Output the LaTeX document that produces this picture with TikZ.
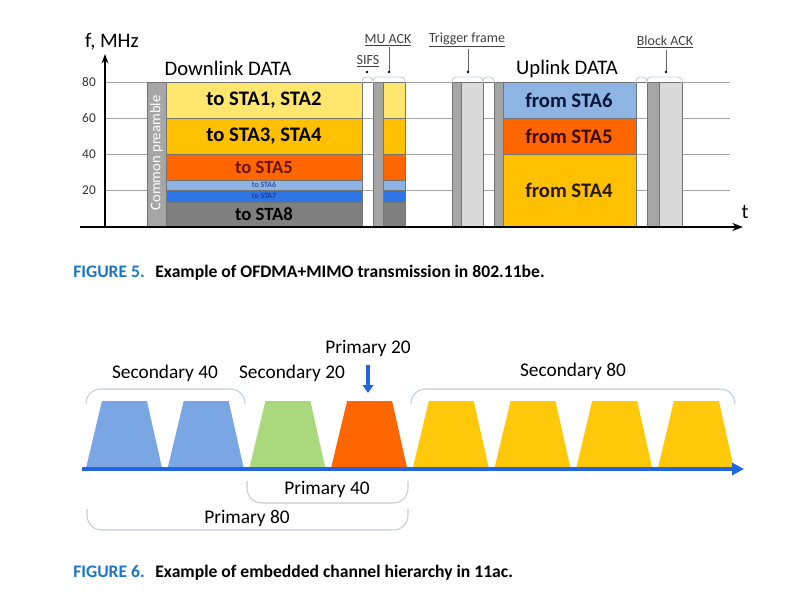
\documentclass[tikz,border=0pt]{standalone}
\usepackage{fontspec}
\setmainfont{Carlito}
\usepackage{xcolor}
\usetikzlibrary{arrows.meta}

\definecolor{paleyel}{RGB}{255,230,110}
\definecolor{gold}{RGB}{255,192,0}
\definecolor{orng}{RGB}{255,102,0}
\definecolor{ltblue}{RGB}{141,180,226}
\definecolor{midblue}{RGB}{46,117,230}
\definecolor{dkgray}{RGB}{127,127,127}
\definecolor{pregray}{RGB}{166,166,166}
\definecolor{ackgray}{RGB}{217,217,217}
\definecolor{brkcol}{RGB}{192,205,224}
\definecolor{capblue}{RGB}{27,117,200}
\definecolor{bblue}{RGB}{122,166,228}
\definecolor{bgreen}{RGB}{169,217,124}
\definecolor{bgold}{RGB}{255,201,10}
\definecolor{axblue}{RGB}{33,102,224}

\tikzset{
  fs/.style={font=\fontsize{#1}{#1}\selectfont},
  bfs/.style={font=\bfseries\fontsize{#1}{#1}\selectfont},
  band/.style={draw=black!55,line width=0.4pt},
  gridline/.style={draw=black!35,line width=0.5pt},
  brk/.style={draw=brkcol,line width=0.7pt,rounded corners=3},
  bigbrk/.style={draw=brkcol,line width=0.8pt,rounded corners=11},
  leader/.style={draw=black!60,line width=0.4pt},
  tag/.style={inner sep=0.75pt,fs=10.5,text=black!75},
  figcap/.style={anchor=west,inner sep=0pt,bfs=13.2},
}

\begin{document}
\begin{tikzpicture}[x=0.75pt,y=0.75pt,yscale=-1,xscale=1]
\useasboundingbox (0,0) rectangle (794,600);

%%%%%%%% FIGURE 5 %%%%%%%%
% grid and tick labels
\foreach \f/\y in {80/82,60/118,40/154,20/190}{
  \draw[gridline] (105,\y) -- (730,\y);
  \node[inner sep=0.75pt,fs=10,text=black!80] (tick\f) at (89,\y) {\f};
}

%Shape: Common preamble
\draw[band,fill=pregray] (147,82) rectangle (166,226);
\node[rotate=90,text=white,fs=11,inner sep=0pt] (preamble) at (156.5,153) {Common preamble};

%Shape: Downlink bands (data + MU ACK)
\foreach \ya/\yb/\c in {82/118/paleyel,118/154/gold,154/180/orng,180/190/ltblue,190/202/midblue,202/226/dkgray}{
  \draw[band,fill=\c] (166,\ya) rectangle (362,\yb);
  \draw[band,fill=\c] (383,\ya) rectangle (405,\yb);
}
\draw[band] (362,82) rectangle (373,226);
\draw[band,fill=pregray] (373,82) rectangle (383,226);

% Text Node
\node[bfs=15.5] (sta12) at (264,100) {to STA1, STA2};
\node[bfs=15.5] (sta34) at (264,136) {to STA3, STA4};
\node[bfs=14,text={rgb,255:red,110;green,20;blue,0}] (sta5) at (264,167) {to STA5};
\node[fs=6,text={rgb,255:red,20;green,50;blue,140},inner sep=0pt] (sta6) at (264,185) {to STA6};
\node[fs=6,text={rgb,255:red,20;green,40;blue,120},inner sep=0pt] (sta7) at (264,196) {to STA7};
\node[bfs=14] (sta8) at (264,214) {to STA8};
\node[fs=15.5] (dldata) at (228,68) {Downlink DATA};

%Shape: Trigger frame
\draw[band,fill=pregray] (452,82) rectangle (461,226);
\draw[band,fill=ackgray] (461,82) rectangle (483,226);
\draw[band] (483,82) rectangle (494,226);

%Shape: Uplink bands
\draw[band,fill=pregray] (494,82) rectangle (503,226);
\draw[band,fill=ltblue] (503,82) rectangle (636,118);
\draw[band,fill=orng] (503,118) rectangle (636,154);
\draw[band,fill=gold] (503,154) rectangle (636,226);
\node[bfs=15.5,text={rgb,255:red,10;green,20;blue,60}] (from6) at (569,100) {from STA6};
\node[bfs=15.5,text={rgb,255:red,60;green,10;blue,0}] (from5) at (569,136) {from STA5};
\node[bfs=15.5,text={rgb,255:red,40;green,25;blue,0}] (from4) at (569,190) {from STA4};
\node[fs=15.5] (uldata) at (567,69) {Uplink DATA};

%Shape: Block ACK
\draw[band] (636,82) rectangle (647,226);
\draw[band,fill=pregray] (647,82) rectangle (659,226);
\draw[band,fill=ackgray] (659,82) rectangle (682,226);

% brackets over the short frames
\foreach \xa/\xb in {362/373,373/405,452/483,483/494,636/647,647/682}{
  \draw[brk] (\xa,83) -- (\xa,77) -- (\xb,77) -- (\xb,83);
}

% frame labels and leaders
\coordinate (sifsdot) at (367,72);
\coordinate (muackdot) at (389,72);
\coordinate (trigdot) at (468,72);
\coordinate (backdot) at (666,72);
\node[tag] (sifs) at (368,61) {\underline{SIFS}};
\node[tag] (muack) at (388,40) {\underline{MU ACK}};
\node[tag] (trig) at (467,40) {\underline{Trigger frame}};
\node[tag] (back) at (665,42) {\underline{Block ACK}};
\draw[leader] (muack.south -| muackdot) -- (muackdot);
\draw[leader] (trig.south -| trigdot) -- (trigdot);
\draw[leader] (back.south -| backdot) -- (backdot);
\foreach \d in {sifsdot,muackdot,trigdot,backdot}{
  \fill (\d) circle[radius=1.3];
}

% axes
\coordinate (origin) at (105,227);
\coordinate (ftop) at (105,54);
\coordinate (tstart) at (80,227);
\coordinate (tend) at (743,227);
\draw[line width=1.6pt,-{Stealth[length=7pt,width=5pt]}] (origin) -- (ftop);
\draw[line width=1.9pt,-{Stealth[length=8pt,width=6pt]}] (tstart) -- (tend);
\node[fs=15.5] (flabel) at (112,42) {f, MHz};
\node[fs=15.5] (tlabel) at (745,212) {t};

% Caption
\node[figcap] (cap5) at (73,273) {\textcolor{capblue}{FIGURE 5.}\hspace{0.6em}Example of OFDMA+MIMO transmission in 802.11be.};

%%%%%%%% FIGURE 6 %%%%%%%%
%Shape: channel trapezoids
\foreach \i/\c in {0/bblue,1/bblue,2/bgreen,3/orng,4/bgold,5/bgold,6/bgold,7/bgold}{
  \pgfmathsetmacro\xl{86+81.7*\i}
  \fill[\c] (\xl,468) -- (\xl+16,401) -- (\xl+61,401) -- (\xl+76,468) -- cycle;
}
\coordinate (fstart) at (82,469);
\coordinate (fend) at (744,469);
\draw[axblue,line width=2.4pt,-{Triangle[length=9pt,width=9pt]}] (fstart) -- (fend);

%Shape: channel brackets
\draw[bigbrk] (86,404) -- (86,389) -- (245,389) -- (245,404);
\draw[bigbrk] (411,404) -- (411,389) -- (735,389) -- (735,404);
\draw[bigbrk] (247,481) -- (247,503) -- (408,503) -- (408,481);
\draw[bigbrk] (87,509) -- (87,530) -- (408,530) -- (408,509);

% Text Node
\node[fs=14.5] (sec40) at (165,373) {Secondary 40};
\node[fs=14.5] (sec20) at (292,373) {Secondary 20};
\node[fs=14.5] (pri20) at (368,348) {Primary 20};
\node[fs=14.5] (sec80) at (573,371) {Secondary 80};
\node[fs=14.5] (pri40) at (327,489) {Primary 40};
\node[fs=14.5] (pri80) at (247,518) {Primary 80};
\coordinate (pri20tip) at (368,393);
\draw[axblue,line width=3pt,shorten <=3pt,-{Triangle[length=6pt,width=8pt]}] (pri20) -- (pri20tip);

% Caption
\node[figcap] (cap6) at (73,573) {\textcolor{capblue}{FIGURE 6.}\hspace{0.6em}Example of embedded channel hierarchy in 11ac.};
\end{tikzpicture}
\end{document}
